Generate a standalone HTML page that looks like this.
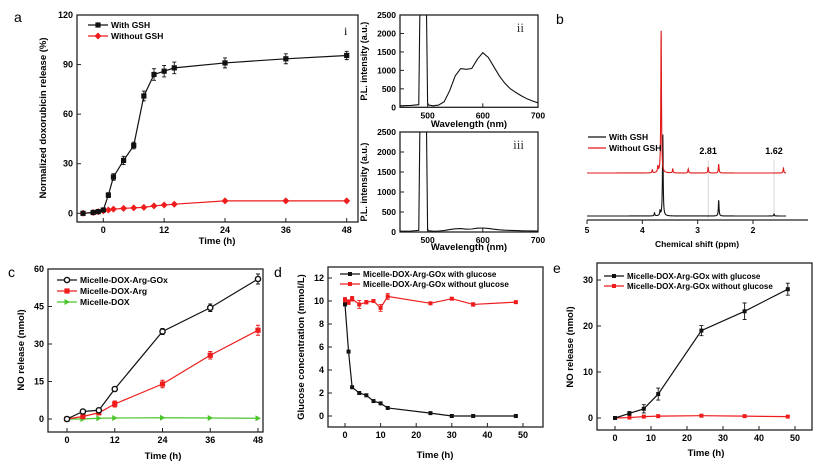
<!DOCTYPE html>
<html><head><meta charset="utf-8"><style>
html,body{margin:0;padding:0;background:#fff}
svg{display:block;font-family:"Liberation Sans",Arial,sans-serif;font-weight:bold}
</style></head><body>
<svg id="fig" width="821" height="465" viewBox="0 0 821 465"></svg>
<script>
// ---- Panel a data ----
const aTimes=[-4,-2,-1,0,1,2,4,6,8,10,12,14,24,36,48];
const aWith=[0,0.5,1,2,11,22,32,41,71,84,86,88,91,93.5,95.5];
const aWithErr=[1,1,1,1,1.5,2,2.5,2,3,3.5,3.5,3.5,3,3,2.5];
const aWithout=[0,0.5,1,1.5,2,2.5,3,3.3,3.6,4.5,5,5.5,7.5,7.5,7.5];
const aTicksX=[0,12,24,36,48];
const aTicksY=[0,30,60,90,120];
// ---- Panel ii / iii spectra ----
const iiWl=[450,470,484,486,488,498,500,502,510,520,530,540,550,560,570,580,590,600,610,620,630,640,650,660,670,680,690,700];
const iiInt=[40,50,70,2600,2600,2600,120,60,40,60,150,450,850,1050,1030,1050,1300,1480,1350,1100,850,650,500,400,310,230,170,120];
const iiiWl=[450,470,484,486,488,498,500,502,510,520,530,540,550,560,570,580,590,600,610,620,630,640,650,660,670,680,690,700];
const iiiInt=[20,25,40,2600,2600,2600,60,30,20,25,35,60,80,85,70,75,95,100,90,70,55,45,40,35,30,28,26,25];
const specTicksX=[500,600,700];
const specTicksY=[0,500,1000,1500,2000,2500];
// ---- Panel b NMR ----
const nmrTicks=[5,4,3,2];
const redPeakPpm=[3.82,3.72,3.66,3.45,3.17,2.81,2.62,1.45];
const redPeakH=[3,6,145,4,4,6,9,5];
const blackPeakPpm=[3.78,3.68,3.63,2.62,1.62];
const blackPeakH=[3,5,83,16,2];
// ---- Panel c ----
const cTimes=[0,4,8,12,24,36,48];
const cArgGOx=[0,3,3.5,12,35,44.5,56];
const cArgGOxErr=[0.5,0.8,0.8,0.8,1.2,1.5,2];
const cArg=[0,1,2.5,6,14,25.5,35.5];
const cArgErr=[0.5,0.8,0.8,1.2,1.5,1.5,2];
const cDox=[0,0,0.3,0.4,0.5,0.4,0.3];
const cTicksX=[0,12,24,36,48];
const cTicksY=[0,15,30,45,60];
// ---- Panel d ----
const dTimes=[0,1,2,4,6,8,10,12,24,30,36,48];
const dWith=[9.7,5.6,2.5,2.0,1.8,1.3,1.1,0.7,0.25,0,0,0];
const dWithout=[10.1,9.9,10.2,9.7,9.9,10,9.4,10.4,9.8,10.2,9.7,9.9];
const dWithoutErr=[0.2,0.2,0.2,0.35,0.15,0.1,0.3,0.25,0.1,0.1,0.15,0.1];
const dTicksX=[0,10,20,30,40,50];
const dTicksY=[0,2,4,6,8,10,12];
// ---- Panel e ----
const eTimes=[0,4,8,12,24,36,48];
const eWith=[0,1,2,5.2,19,23.2,28];
const eWithErr=[0.2,0.4,0.9,1.3,1.1,1.8,1.3];
const eWithout=[0,0.1,0.3,0.4,0.5,0.4,0.3];
const eTicksX=[0,10,20,30,40,50];
const eTicksY=[0,10,20,30];

const NS="http://www.w3.org/2000/svg";
const svg=document.getElementById('fig');
function mk(tag,attrs,parent){const e=document.createElementNS(NS,tag);for(const k in attrs)e.setAttribute(k,attrs[k]);(parent||svg).appendChild(e);return e;}
function txt(x,y,s,size,anchor,parent,rot){const t=mk('text',{x:x,y:y,'font-size':size,'text-anchor':anchor||'middle'},parent);if(rot)t.setAttribute('transform','rotate(-90 '+x+' '+y+')');t.textContent=s;return t;}
function lin(d0,d1,p0,p1){return v=>p0+(v-d0)*(p1-p0)/(d1-d0);}

function frame(g,L,T,R,B,xs,ys,xt,yt,fs){
  const r=mk('rect',{x:L,y:T,width:R-L,height:B-T,fill:'none',stroke:'#222','stroke-width':1.3},g);
  
  xt.forEach(v=>{const x=xs(v);mk('line',{x1:x,y1:B,x2:x,y2:B-4,stroke:'#222'},g);const t=txt(x,B+11,String(v),fs||9,'middle',g);});
  yt.forEach(v=>{const y=ys(v);mk('line',{x1:L,y1:y,x2:L+4,y2:y,stroke:'#222'},g);const t=txt(L-4,y+3,String(v),fs||9,'end',g);});
}
function series(g,xsArr,ysArr,xs,ys,color,marker,err,name){
  const s=mk('g',{},g);
  mk('polyline',{points:xsArr.map((x,i)=>xs(x)+','+ys(ysArr[i])).join(' '),fill:'none',stroke:color,'stroke-width':1.2},s);
  xsArr.forEach((x,i)=>{const px=xs(x),py=ys(ysArr[i]);
    if(err){const e=err[i];const y1=ys(ysArr[i]+e),y2=ys(ysArr[i]-e);mk('path',{d:`M${px},${y1}V${y2}M${px-2},${y1}h4M${px-2},${y2}h4`,stroke:color,'stroke-width':0.9,fill:'none'},s);}
    let m;
    if(marker==='sq')m=mk('rect',{x:px-2.6,y:py-2.6,width:5.2,height:5.2,fill:color},s);
    else if(marker==='sqs')m=mk('rect',{x:px-2,y:py-2,width:4,height:4,fill:color},s);
    else if(marker==='dia')m=mk('path',{d:`M${px},${py-3.5}l3.5,3.5l-3.5,3.5l-3.5,-3.5z`,fill:color},s);
    else if(marker==='circ')m=mk('circle',{cx:px,cy:py,r:2.6,fill:'#fff',stroke:color,'stroke-width':1.4},s);
    else if(marker==='tri')m=mk('path',{d:`M${px-2.5},${py-3}l5.5,3l-5.5,3z`,fill:color},s);
    
  });
}
function legend(g,x,y,color,marker,label,fs,len){
  const l=mk('g',{},g);
  len=len||20;
  mk('line',{x1:x,y1:y,x2:x+len,y2:y,stroke:color,'stroke-width':1.3},l);
  const c=x+len/2;
  if(marker==='sq')mk('rect',{x:c-2.6,y:y-2.6,width:5.2,height:5.2,fill:color},l);
  if(marker==='sqs')mk('rect',{x:c-2,y:y-2,width:4,height:4,fill:color},l);
  if(marker==='dia')mk('path',{d:`M${c},${y-3.5}l3.5,3.5l-3.5,3.5l-3.5,-3.5z`,fill:color},l);
  if(marker==='circ')mk('circle',{cx:c,cy:y,r:2.6,fill:'#fff',stroke:color,'stroke-width':1.4},l);
  if(marker==='tri')mk('path',{d:`M${c-2.5},${y-3}l5.5,3l-5.5,3z`,fill:color},l);
  txt(x+len+3,y+3,label,fs||8.5,'start',l);
}
function panelLetter(x,y,s){const t=mk('text',{x:x,y:y,'font-size':14,'font-weight':'normal'});t.textContent=s;}

// ===== Panel a =====
{const g=mk('g',{});
 const xs=lin(0,48,103.3,346.7), ys=lin(0,120,213.3,15);
 frame(g,77,15,358,222,xs,ys,aTicksX,aTicksY);
 series(g,aTimes,aWithout,xs,ys,'#ee1c1c','dia',null,'without-gsh-series');
 series(g,aTimes,aWith,xs,ys,'#111','sq',aWithErr,'with-gsh-series');
 legend(g,88,25,'#111','sq','With GSH');legend(g,88,36,'#ee1c1c','dia','Without GSH');
 const ti=mk('text',{x:344,y:35,'font-size':12,'font-weight':'normal','font-family':'Liberation Serif'},g);ti.textContent='i';
 const yl=txt(46,118,'Normalized doxorubicin release (%)',9.5,'middle',g,true);
 const xl=txt(217,244,'Time (h)',9.5,'middle',g);
}
panelLetter(14,22,'a');

// ===== Panels ii, iii =====
function spectrum(T,B,wl,it,roman,name,showX){
 const g=mk('g',{});
 const xs=lin(450,700,400,538), ys=lin(0,2500,B,T);
 const cp=mk('clipPath',{id:'clip'+name},g);mk('rect',{x:400,y:T,width:138,height:B-T},cp);
 frame(g,400,T,538,B,xs,ys,specTicksX,specTicksY,8.5);
 mk('polyline',{points:wl.map((w,i)=>xs(w)+','+ys(it[i])).join(' '),fill:'none',stroke:'#111','stroke-width':1.1,'clip-path':'url(#clip'+name+')'},g);
 const r=mk('text',{x:524,y:T+17,'font-size':13,'font-weight':'normal','text-anchor':'end','font-family':'Liberation Serif',fill:'#333'},g);r.textContent=roman;
 txt(367,(T+B)/2,'P.L. intensity (a.u.)',9,'middle',g,true);
 if(showX)txt(469,127,'Wavelength (nm)',9.5,'middle',g);
}
spectrum(15,107.3,iiWl,iiInt,'ii','panel-ii-spectrum',true);
spectrum(132,232,iiiWl,iiiInt,'iii','panel-iii-spectrum',false);
{const t=txt(469,250,'Wavelength (nm)',9.5,'middle');}

// ===== Panel b NMR =====
{const g=mk('g',{});
 const xs=lin(5,2,587,753);
 mk('line',{x1:587,y1:220,x2:808,y2:220,stroke:'#222','stroke-width':1.2},g);
 nmrTicks.forEach(v=>{mk('line',{x1:xs(v),y1:220,x2:xs(v),y2:224,stroke:'#222'},g);txt(xs(v),233,String(v),8.5,'middle',g);});
 [2.81,1.62].forEach(p=>mk('line',{x1:xs(p),y1:160,x2:xs(p),y2:218,stroke:'#ccc','stroke-width':0.8},g));
 function trace(pp,hh,base,color,nm){const pts=[];for(let p=5;p>=1.4;p-=0.003){let y=0;pp.forEach((c,i)=>{const w=0.007;y+=hh[i]*w*w/((p-c)*(p-c)+w*w);});pts.push(xs(p)+','+(base-y));}
  const pl=mk('polyline',{points:pts.join(' '),fill:'none',stroke:color,'stroke-width':1.1},g);}
 trace(blackPeakPpm,blackPeakH,216,'#111','with-gsh-trace');
 trace(redPeakPpm,redPeakH,173,'#e01818','without-gsh-trace');
 legend(g,588,137,'#111',null,'With GSH',8.5,18);legend(g,588,148,'#e01818',null,'Without GSH',8.5,18);
 txt(xs(2.81),154,'2.81',9,'middle',g);txt(xs(1.62),154,'1.62',9,'middle',g);
 txt(697,247,'Chemical shift (ppm)',8.5,'middle',g);
}
panelLetter(556,24,'b');

// ===== Panel c =====
{const g=mk('g',{});
 const xs=lin(0,48,67,258), ys=lin(0,60,419,269);
 frame(g,48,269,263,432,xs,ys,cTicksX,cTicksY);
 series(g,cTimes,cDox,xs,ys,'#4cc42c','tri',null,'micelle-dox-series');
 series(g,cTimes,cArg,xs,ys,'#ee1c1c','sq',cArgErr,'micelle-dox-arg-series');
 series(g,cTimes,cArgGOx,xs,ys,'#111','circ',cArgGOxErr,'micelle-dox-arg-gox-series');
 legend(g,57,280,'#111','circ','Micelle-DOX-Arg-GOx');legend(g,57,291,'#ee1c1c','sq','Micelle-DOX-Arg');legend(g,57,302,'#4cc42c','tri','Micelle-DOX');
 txt(24,350,'NO release (nmol)',9.5,'middle',g,true);txt(163,459,'Time (h)',9.5,'middle',g);
}
panelLetter(8,277,'c');

// ===== Panel d =====
{const g=mk('g',{});
 const xs=lin(0,50,345,523), ys=lin(0,12,416,278);
 frame(g,328,267,543,427,xs,ys,dTicksX,dTicksY);
 series(g,dTimes,dWithout,xs,ys,'#ee1c1c','sqs',dWithoutErr,'without-glucose-series');
 series(g,dTimes,dWith,xs,ys,'#111','sqs',null,'with-glucose-series');
 legend(g,340,274,'#111','sqs','Micelle-DOX-Arg-GOx with glucose',8);legend(g,340,284,'#ee1c1c','sqs','Micelle-DOX-Arg-GOx without glucose',8);
 txt(304,347,'Glucose concentration (mmol/L)',9.5,'middle',g,true);txt(435,458,'Time (h)',9.5,'middle',g);
}
panelLetter(274,277,'d');

// ===== Panel e =====
{const g=mk('g',{});
 const xs=lin(0,50,615,795), ys=lin(0,30,418,280);
 frame(g,597,263,812,430,xs,ys,eTicksX,eTicksY);
 series(g,eTimes,eWithout,xs,ys,'#ee1c1c','sqs',null,'without-glucose-series');
 series(g,eTimes,eWith,xs,ys,'#111','sqs',eWithErr,'with-glucose-series');
 legend(g,604,276,'#111','sqs','Micelle-DOX-Arg-GOx with glucose',8);legend(g,604,286,'#ee1c1c','sqs','Micelle-DOX-Arg-GOx without glucose',8);
 txt(573,347,'NO release (nmol)',9.5,'middle',g,true);txt(706,456,'Time (h)',9.5,'middle',g);
}
panelLetter(553,273,'e');
</script>
</body></html>
